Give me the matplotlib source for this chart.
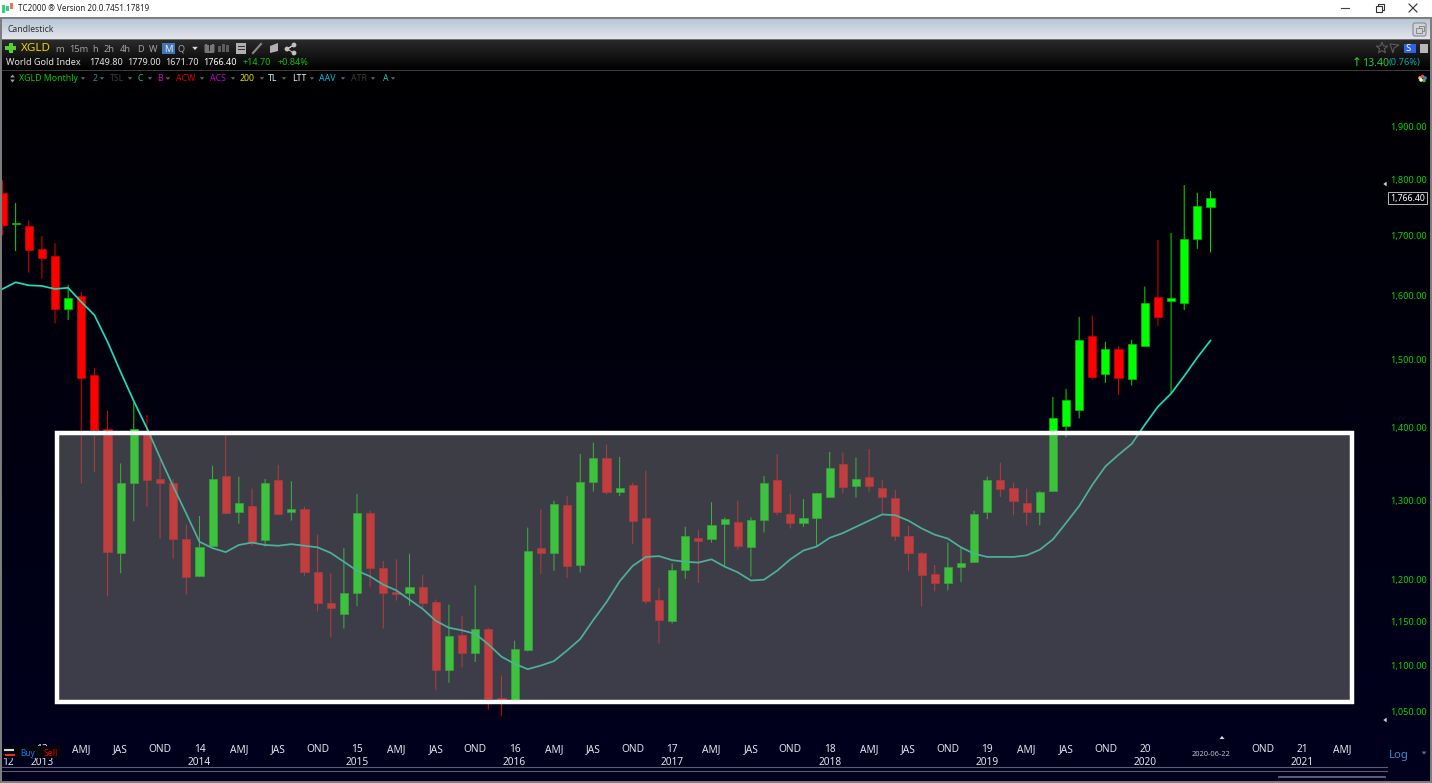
import numpy as np
import matplotlib
matplotlib.use("Agg")
import matplotlib.pyplot as plt
from matplotlib.patches import Rectangle, Polygon, Circle, FancyBboxPatch
from matplotlib.transforms import blended_transform_factory

plt.rcParams['font.family'] = ['Noto Sans', 'DejaVu Sans']

opens = [1775,1721,1718,1678,1666,1578,1600,1477,1398,1233,1324,1394,1329,1324,1251,1204,1242,1333,1285,1293,1249,1328,1285,1289,1209,1172,1159,1184,1284,1214,1185,1184,1191,1173,1095,1135,1114,1142,1064,1061,1118,1239,1233,1294,1218,1325,1358,1312,1321,1278,1176,1151,1212,1252,1251,1270,1272,1241,1275,1328,1283,1271,1278,1305,1349,1320,1332,1317,1304,1254,1233,1207,1196,1216,1222,1285,1327,1317,1297,1285,1313,1402,1425,1536,1478,1516,1470,1521,1598,1592,1589,1694,1749.8]
highs = [1799,1758,1727,1700,1687,1618,1606,1487,1424,1350,1436,1418,1355,1329,1269,1280,1347,1390,1332,1316,1329,1348,1326,1292,1256,1208,1239,1309,1287,1223,1225,1232,1206,1176,1170,1157,1193,1143,1089,1128,1265,1289,1300,1306,1363,1379,1376,1359,1324,1340,1190,1220,1266,1262,1298,1278,1300,1278,1333,1363,1309,1302,1310,1366,1365,1358,1370,1328,1314,1267,1234,1218,1246,1239,1287,1332,1351,1324,1316,1313,1444,1456,1566,1568,1527,1520,1530,1615,1693,1705,1790,1776,1779]
lows = [1701,1674,1638,1628,1556,1561,1323,1338,1180,1208,1273,1292,1251,1226,1182,1203,1241,1283,1270,1242,1241,1281,1274,1205,1162,1132,1142,1168,1191,1142,1175,1169,1166,1073,1081,1098,1104,1052,1045,1060,1116,1207,1211,1202,1209,1312,1308,1306,1244,1171,1125,1148,1201,1196,1246,1216,1237,1204,1259,1281,1264,1266,1241,1305,1310,1304,1312,1282,1248,1211,1168,1186,1187,1197,1221,1276,1305,1281,1268,1268,1312,1386,1413,1470,1465,1447,1461,1520,1552,1450,1577,1678,1671.7]
closes = [1719,1723,1676,1662,1579,1597,1472,1396,1234,1324,1398,1327,1324,1251,1203,1240,1329,1284,1297,1246,1323,1282,1289,1209,1172,1166,1184,1284,1214,1184,1183,1191,1172,1095,1134,1114,1142,1063,1061,1119,1235,1233,1296,1217,1325,1358,1312,1317,1273,1174,1152,1212,1254,1248,1269,1276,1242,1275,1324,1285,1271,1277,1310,1344,1318,1329,1320,1305,1254,1233,1206,1196,1216,1220,1282,1327,1316,1299,1285,1312,1414,1439,1530,1473,1516,1472,1524,1588,1566,1597,1695,1752,1766.4]
moving_avg = [1611,1622,1617,1616,1611,1613,1590,1569,1527,1481,1438,1399,1358,1319,1283,1247,1239,1234,1243,1246,1243,1242,1244,1242,1240,1233,1222,1211,1204,1194,1187,1176,1165,1151,1143,1140,1136,1124,1110,1102,1096,1100,1105,1117,1130,1152,1173,1198,1217,1228,1229,1224,1222,1221,1225,1216,1209,1199,1200,1211,1225,1236,1241,1252,1258,1266,1274,1282,1281,1274,1264,1256,1251,1240,1232,1228,1228,1228,1230,1237,1250,1271,1293,1321,1346,1362,1377,1404,1430,1449,1475,1503,1529]

price_ticks = [1050, 1100, 1150, 1200, 1300, 1400, 1500, 1600, 1700, 1800, 1900]
price_labels = ['1,050.00','1,100.00','1,150.00','1,200.00','1,300.00','1,400.00','1,500.00','1,600.00','1,700.00','1,800.00','1,900.00']
quarter_pos = [3,6,9,12,15,18,21,24,27,30,33,36,39,42,45,48,51,54,57,60,63,66,69,72,75,78,81,84,87,96,99,102]
quarter_labels = ['13','AMJ','JAS','OND','14','AMJ','JAS','OND','15','AMJ','JAS','OND','16','AMJ','JAS','OND','17','AMJ','JAS','OND','18','AMJ','JAS','OND','19','AMJ','JAS','OND','20','OND','21','AMJ']
year_pos = [0.4,3,15,27,39,51,63,75,87,99]
year_labels = ['12','2013','2014','2015','2016','2017','2018','2019','2020','2021']
zone_low, zone_high = 1060.5, 1392.8
zone_first, zone_last = 4.12, 102.8

W, H = 1432, 783
fig = plt.figure(figsize=(W/100, H/100), dpi=100, facecolor='#000008')

def axes_px(l, t, r, b, **kw):
    return fig.add_axes([l/W, 1-b/H, (r-l)/W, (b-t)/H], **kw)

# chart background gradient
bg = axes_px(0, 70, W, H, zorder=0)
grad = np.zeros((64, 1, 3))
grad[:, 0, 2] = np.linspace(3/255, 30/255, 64)
bg.imshow(grad, aspect='auto', interpolation='bilinear')
bg.axis('off')

# price chart
ax = axes_px(2.3, 84, 1383, 740, zorder=2, facecolor='none')
ax.set_yscale('log')
ax.set_xlim(-0.015, 105.14)
ax.set_ylim(1020.1, 1982.9)
for s in ax.spines.values():
    s.set_visible(False)

idx = np.arange(len(opens))
o, h, l, c = map(np.array, (opens, highs, lows, closes))
up = c >= o
wick_cols = np.where(up, '#00e000', '#e00000')
ax.vlines(idx, l, h, colors=wick_cols, linewidth=0.72, zorder=2, snap=False)
body_low = np.minimum(o, c)
body_high = np.maximum(o, c)
ax.bar(idx, body_high-body_low, bottom=body_low, width=0.62,
       color=np.where(up, '#00ff00', '#ff0000'),
       edgecolor=np.where(up, '#00c000', '#c80000'), linewidth=0.5, zorder=3)
ax.plot(idx, moving_avg, color='#1fdcb8', lw=1.25, zorder=4)
ax.add_patch(Rectangle((zone_first, zone_low), zone_last-zone_first, zone_high-zone_low,
                       facecolor=(0.5, 0.5, 0.5, 0.48), edgecolor='white', linewidth=3.2, zorder=5,
                       joinstyle='miter'))

ax.set_yticks(price_ticks, price_labels)
ax.minorticks_off()
ax.yaxis.tick_right()
ax.tick_params(axis='y', which='both', length=0, pad=5, labelsize=6.6, labelcolor='#00d800')
ax.xaxis.remove_overlapping_locs = False
ax.set_xticks(quarter_pos, quarter_labels)
ax.set_xticks(year_pos, year_labels, minor=True)
ax.tick_params(axis='x', which='major', length=0, pad=3, labelsize=7.3, labelcolor='#e4e4ee')
ax.tick_params(axis='x', which='minor', length=0, pad=12.5, labelsize=7.3, labelcolor='#e4e4ee')

# current price box
tr = blended_transform_factory(ax.transAxes, ax.transData)
ax.text(1.005, closes[-1], '1,766.40', transform=tr, ha='left', va='center', color='white', fontsize=6.3,
        bbox=dict(boxstyle='square,pad=0.2', fc='#000006', ec='#b8b8b8', lw=0.7), clip_on=False, zorder=8)

# user interface, in pixels
ui = axes_px(0, 0, W, H, zorder=5, facecolor='none')
ui.axis('off')

def rect(x0, y0, x1, y1, **kw):
    kw.setdefault('lw', 0)
    ui.add_patch(Rectangle((x0, y0), x1-x0, y1-y0, **kw))

def txt(x, y, s, color='#c8c8c8', size=7.6, ha='left', **kw):
    ui.text(x, y, s, color=color, fontsize=size, ha=ha, va='center', **kw)

def tri(x, y, color='#9a9a9a', s=2.5, d='down'):
    pts = {'down': [(x-s, y-s*0.6), (x+s, y-s*0.6), (x, y+s*0.6)],
           'up': [(x-s, y+s*0.6), (x+s, y+s*0.6), (x, y-s*0.6)],
           'left': [(x+s*0.7, y-s), (x+s*0.7, y+s), (x-s*0.7, y)]}[d]
    ui.add_patch(Polygon(pts, fc=color, ec='none'))

def vgrad(x0, y0, x1, y1, c0, c1):
    g = np.linspace(np.array(matplotlib.colors.to_rgb(c0)), np.array(matplotlib.colors.to_rgb(c1)), 32)[:, None, :]
    ui.imshow(g, extent=(x0, x1, y1, y0), aspect='auto', interpolation='bilinear', zorder=0.5)

vgrad(0, 18, W, 39, '#b6c5d8', '#e2e4e8')
vgrad(0, 40, W, 70, '#2a2a2a', '#000000')
rect(0, 0, W, 17, fc='white', zorder=1)
rect(0, 17, W, 18.5, fc='#7f7f7f', zorder=1)
rect(0, 38.5, W, 40, fc='#6e6e6e', zorder=1)
rect(0, 70, W, 71, fc='#3c3c3c', zorder=1)
rect(0, 18, 2.2, H, fc='#7d7d7d', zorder=6)
rect(W-2.2, 18, W, H, fc='#7d7d7d', zorder=6)
rect(0, H-2.2, W, H, fc='#7d7d7d', zorder=6)

# title bar
rect(2, 5, 5, 13, fc='#35d07f', zorder=2)
rect(6, 6, 9, 11, fc='#35d07f', zorder=2)
rect(10, 3, 13, 9, fc='#f07060', zorder=2)
txt(18, 8.5, 'TC2000 \u00ae Version 20.0.7451.17819', color='#202020', size=5.8, zorder=2)
ui.plot([1341, 1349], [8, 8], color='#404040', lw=0.8, zorder=2)
rect(1378, 3.5, 1384, 10, fc='none', ec='#303030', lw=0.8, zorder=1.5)
rect(1376, 6, 1381.5, 11.5, fc='white', ec='#303030', lw=0.8, zorder=2)
ui.plot([1409, 1417], [4, 12], color='#303030', lw=0.8, zorder=2)
ui.plot([1409, 1417], [12, 4], color='#303030', lw=0.8, zorder=2)

# candlestick bar
txt(7, 29.5, 'Candlestick', color='#303030', size=6.2, zorder=2)
ui.add_patch(FancyBboxPatch((1413, 23), 13, 13, boxstyle='round,pad=0,rounding_size=2', fc='#cfd4da', ec='#8a8a8a', lw=0.8, zorder=2))
rect(1419, 25.5, 1424, 30.5, fc='none', ec='#8a8a8a', lw=0.7, zorder=2)
rect(1416, 28, 1421.5, 33, fc='#cfd4da', ec='#8a8a8a', lw=0.7, zorder=2)

# toolbar row
rect(5, 46, 16, 50, fc='#58d030', zorder=2)
rect(8.5, 43, 12.5, 53, fc='#58d030', zorder=2)
txt(21, 48.5, 'XGLD', color='#f0d400', size=8.4, zorder=2)
for x, s in [(55, 'm'), (69, '15m'), (92, 'h'), (103, '2h'), (120, '4h'), (137, 'D'), (149, 'W'), (178, 'Q')]:
    txt(x, 49, s, color='#a0a0a0', size=6.6, zorder=2)
rect(162, 43, 175, 54, fc='#3f78b8', zorder=2)
txt(168.5, 49, 'M', color='#e8e8e8', size=6.8, ha='center', zorder=2)
tri(195, 48.5, color='#d8d8d8', s=2.8)
ui.add_patch(FancyBboxPatch((204.5, 44), 10, 9, boxstyle='round,pad=0,rounding_size=1.5', fc='#777777', ec='none', zorder=2))
txt(209.5, 48.5, 'T', color='#101010', size=6.5, ha='center', weight='bold', zorder=2)
for x, t in [(218, 46), (222, 44), (226, 45)]:
    rect(x, t, x+2.5, 52, fc='#5c5c5c', zorder=2)
rect(236, 43, 246, 54, fc='#b0b0b0', zorder=2)
ui.plot([238, 244], [46, 46], color='#303030', lw=0.7, zorder=3)
ui.plot([238, 244], [49, 49], color='#303030', lw=0.7, zorder=3)
ui.plot([253, 261], [53, 44], color='#8a8a8a', lw=1.5, zorder=2)
ui.add_patch(Polygon([(270, 46), (278, 43), (278, 51), (270, 53)], fc='#b0b0b0', zorder=2))
for x, y in [(287, 49), (294, 45), (294, 53)]:
    ui.add_patch(Circle((x, y), 2.4, fc='#c0c0c0', ec='none', zorder=2))
ui.plot([287, 294, 287, 294], [49, 45, 49, 53], color='#c0c0c0', lw=0.7, zorder=2)

# quote row
txt(6, 62.5, 'World Gold Index', color='#e4e4e4', size=6.5, zorder=2)
for x, s in [(89, '1749.80'), (127, '1779.00'), (165, '1671.70')]:
    txt(x, 62.5, s, color='#e4e4e4', size=6.5, zorder=2)
txt(203, 62.5, '1766.40', color='white', size=6.5, weight='bold', zorder=2)
txt(243, 62.5, '+14.70', color='#18b818', size=6.5, zorder=2)
txt(278, 62.5, '+0.84%', color='#18b818', size=6.5, zorder=2)
txt(1352, 63, '\u2191', color='#30d030', size=8.5, zorder=2, family=['DejaVu Sans'])
txt(1362, 63, '13.40', color='#30c840', size=7.6, zorder=2)
txt(1389, 63, '(0.76%)', color='#18a0a0', size=6.7, zorder=2)

# indicator row
tri(12.5, 76, color='#a0a0a0', s=2.4, d='up')
tri(12.5, 81, color='#a0a0a0', s=2.4, d='down')
for x, s, col in [(19, 'XGLD Monthly', '#00cc00'), (93, '2', '#10a0a0'), (110, 'TSL', '#3a3a3a'),
                  (137, 'C', '#00c8a0'), (157, 'B', '#e000c0'), (176, 'ACW', '#d80000'),
                  (210, 'ACS', '#c000d8'), (240, '200', '#e0e000'), (268, 'TL', '#d0f0ff'),
                  (292, 'LTT', '#f0f0f0'), (319, 'AAV', '#00c0e0'), (351, 'ATR', '#3a3a3a'),
                  (383, 'A', '#10c8b0')]:
    txt(x, 78.5, s, color=col, size=6.3, zorder=2)
for x in [83, 102, 130, 150, 168, 202, 233, 262, 284, 312, 343, 373, 393]:
    tri(x, 78.5, color='#606060', s=2.2)

# top right icons
star_a = np.deg2rad(np.arange(10)*36+90)
star_r = np.where(np.arange(10) % 2 == 0, 6, 2.5)
ui.add_patch(Polygon(np.c_[1382+star_r*np.cos(star_a), 48-star_r*np.sin(star_a)], fc='none', ec='#5a5a5a', lw=0.8, zorder=2))
ui.add_patch(Polygon([(1390, 44), (1399, 45), (1394, 48), (1393, 53)], fc='none', ec='#5a5a5a', lw=0.8, zorder=2))
rect(1404, 44, 1416, 53, fc='#2f62e0', zorder=2)
txt(1408.5, 48.5, 'S', color='white', size=6.8, weight='bold', ha='center', zorder=3)
rect(1420, 44, 1428, 53, fc='#b8b8b8', zorder=2)
for x, y, col in [(1420, 78, '#f0c030'), (1422.5, 76.5, '#e05050'), (1425, 78, '#4080e0'), (1424, 80.5, '#40b040'), (1421, 80, '#f0f0f0')]:
    ui.add_patch(Circle((x, y), 1.8, fc=col, ec='none', zorder=2))

# right scale markers
tri(1385, 184, color='#d0d0d0', s=2.4, d='left')
tri(1385, 720, color='#d0d0d0', s=2.4, d='left')

# bottom strip
ui.plot([2, 1387], [767.3, 767.3], color='#5c5c72', lw=0.8, zorder=3)
ui.plot([2, 1387], [771.3, 771.3], color='#5c5c72', lw=0.8, zorder=3)
ui.plot([1279, 1385], [777, 777], color='#66667a', lw=1.3, zorder=3)
rect(4, 746, 62, 758, fc='#05050c', zorder=3)
ui.plot([5, 13], [750, 750], color='#d8d8d8', lw=1.5, zorder=4)
tri(14, 750, color='#d8d8d8', s=2.2, d='down')
ui.plot([6, 14], [755, 755], color='#e03030', lw=1.5, zorder=4)
tri(5, 755, color='#e03030', s=2.2, d='left')
txt(20, 753.5, 'Buy', color='#1e78f0', size=5.9, zorder=4)
txt(44, 753.5, 'Sell', color='#e80000', size=6.3, zorder=4)
tri(1222, 737.5, color='#d8d8d8', s=2.6, d='up')
txt(1211, 754, '2020-06-22', color='#c0c0cc', size=5.4, ha='center', zorder=4)
txt(1389, 755.5, 'Log', color='#3a90c8', size=8.1, zorder=4)
tri(1424, 753, color='#707070', s=2.4)

ui.set_xlim(0, W)
ui.set_ylim(H, 0)
fig.savefig('out.png', dpi=100, facecolor=fig.get_facecolor())
